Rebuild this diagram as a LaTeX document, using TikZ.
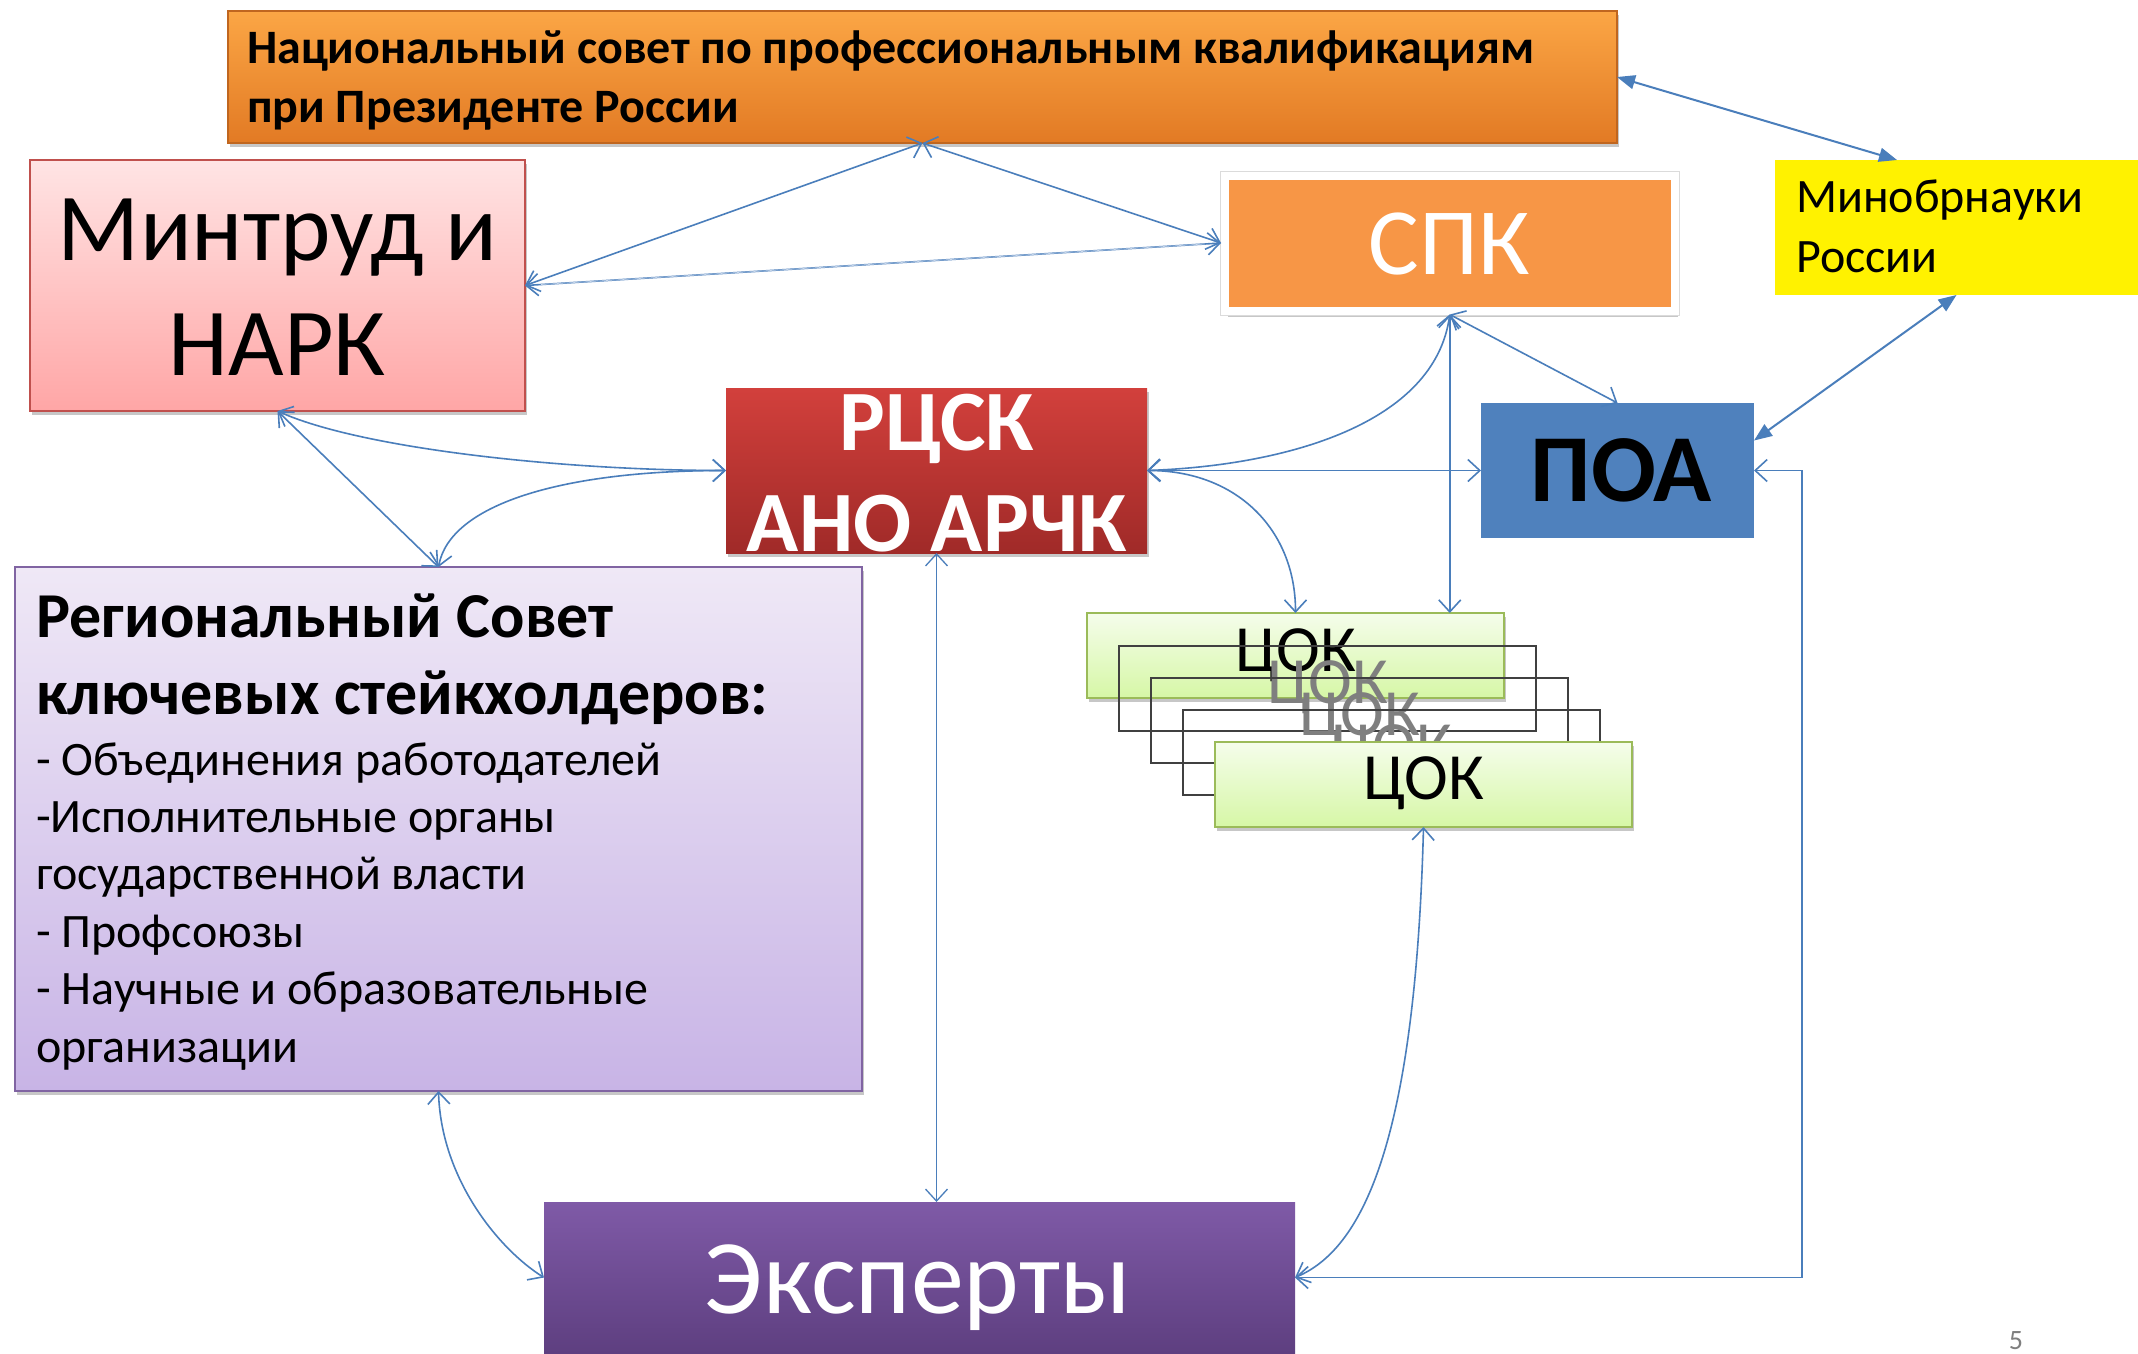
\documentclass[tikz,border=0pt]{standalone}
\usepackage{fontspec}
\setmainfont{Carlito}
\usetikzlibrary{arrows.meta,shadows,calc}
\definecolor{connc}{HTML}{4A7EBB}
\definecolor{natTop}{HTML}{FBA645}
\definecolor{natBot}{HTML}{E27A24}
\definecolor{natLine}{HTML}{C0661F}
\definecolor{minTop}{HTML}{FFE4E4}
\definecolor{minBot}{HTML}{FFA6A6}
\definecolor{minLine}{HTML}{C0504D}
\definecolor{rcTop}{HTML}{D2403C}
\definecolor{rcBot}{HTML}{A02A28}
\definecolor{spkFill}{HTML}{F79646}
\definecolor{poaFill}{HTML}{4F81BD}
\definecolor{cokTop}{HTML}{F5FDEB}
\definecolor{cokBot}{HTML}{D6F7A6}
\definecolor{cokLine}{HTML}{9BBB59}
\definecolor{regTop}{HTML}{EFE8F6}
\definecolor{regBot}{HTML}{C8B4E6}
\definecolor{regLine}{HTML}{8064A2}
\definecolor{expTop}{HTML}{7F5AA7}
\definecolor{expBot}{HTML}{5E3F80}
\definecolor{grayTxt}{HTML}{7F7F7F}
\definecolor{outl}{HTML}{404040}
\newcommand{\myfs}[2]{\fontsize{#1}{#2}\selectfont}
\begin{document}
\begin{tikzpicture}[x=1pt,y=-1pt,
  box/.style={rectangle, inner sep=0pt, outer sep=0pt},
  sh/.style={drop shadow={shadow xshift=2pt, shadow yshift=-4pt, opacity=0.22, fill=black}},
  link/.style={draw=connc, line width=1.6pt, {Straight Barb[length=12pt,width=22pt]}-{Straight Barb[length=12pt,width=22pt]}},
  flink/.style={draw=connc, line width=2pt, {Triangle[length=18pt,width=14pt]}-{Triangle[length=18pt,width=14pt]}},
  txt/.style={inner sep=0pt, outer sep=0pt, anchor=base},
  coktxt/.style={txt, font=\myfs{66}{70}},
  regl/.style={txt, anchor=base west, font=\myfs{48}{52}},
]
\fill[white] (0,0) rectangle (2138,1353);
\useasboundingbox (0,0) rectangle (2138,1353);

% ---------- boxes ----------
\node[box, sh, top color=natTop, bottom color=natBot, draw=natLine, line width=1.5pt,
      minimum width=1389pt, minimum height=132pt] (nat) at (922.5,77) {};
\node[txt, anchor=base west, font=\bfseries\myfs{48}{52}] (natT1) at (247,63) {Национальный совет по профессиональным квалификациям};
\node[txt, anchor=base west, font=\bfseries\myfs{48}{52}] (natT2) at (247,122) {при Президенте России};

\node[box, sh, top color=minTop, bottom color=minBot, draw=minLine, line width=2pt,
      minimum width=495pt, minimum height=251pt] (mintrud) at (277.5,285.5) {};
\node[txt, font=\myfs{96}{110}] (minT1) at (277.5,260) {Минтруд и};
\node[txt, font=\myfs{96}{110}] (minT2) at (277.5,375) {НАРК};

\node[box, sh, top color=rcTop, bottom color=rcBot,
      minimum width=421pt, minimum height=165pt] (rcsk) at (936.5,470.5) {};
\node[txt, text=white, font=\bfseries\myfs{86}{100}] (rcT1) at (937,450) {РЦСК};
\node[txt, text=white, font=\bfseries\myfs{86}{100}] (rcT2) at (937,551) {АНО АРЧК};

\node[box, drop shadow={shadow xshift=3pt, shadow yshift=-6pt, opacity=0.22, fill=black},
      preaction={draw=black!14, line width=10pt},
      fill=spkFill, draw=white, line width=8pt, outer sep=4pt,
      minimum width=449.5pt, minimum height=135pt] (spk) at (1449.75,243) {};
\node[txt, text=white, font=\myfs{95}{100}] (spkT) at (1449,274) {СПК};

\node[box, fill=yellow, minimum width=363pt, minimum height=135pt] (minob) at (1956.5,227.5) {};
\node[txt, anchor=base west, font=\myfs{48}{52}] (minobT1) at (1796,212) {Минобрнауки};
\node[txt, anchor=base west, font=\myfs{48}{52}] (minobT2) at (1796,272) {России};

\node[box, fill=poaFill, minimum width=273pt, minimum height=135pt] (poa) at (1617.5,470.5) {};
\node[txt, font=\bfseries\myfs{96}{100}] (poaT) at (1621,501) {ПОА};

% ЦОК stack
\node[box, sh, top color=cokTop, bottom color=cokBot, draw=cokLine, line width=2pt,
      minimum width=417pt, minimum height=85pt] (cok1) at (1295.5,655.5) {};
\node[coktxt] (cok1T) at (1295.5,671) {ЦОК};
\node[box, draw=outl, line width=1.8pt, minimum width=417pt, minimum height=85pt] (cok2) at (1327.5,688.5) {};
\node[coktxt, text=grayTxt] (cok2T) at (1327.5,703) {ЦОК};
\node[box, draw=outl, line width=1.8pt, minimum width=417pt, minimum height=85pt] (cok3) at (1359.5,720.5) {};
\node[coktxt, text=grayTxt] (cok3T) at (1359.5,735) {ЦОК};
\node[box, draw=outl, line width=1.8pt, minimum width=417pt, minimum height=85pt] (cok4) at (1391.5,752.5) {};
\node[coktxt, text=grayTxt] (cok4T) at (1391.5,767) {ЦОК};
\node[box, sh, top color=cokTop, bottom color=cokBot, draw=cokLine, line width=2pt,
      minimum width=417pt, minimum height=85pt] (cok5) at (1423.5,784.5) {};
\node[coktxt] (cok5T) at (1423.5,799) {ЦОК};

% Regional council
\node[box, sh, top color=regTop, bottom color=regBot, draw=regLine, line width=2pt,
      minimum width=847pt, minimum height=524pt] (reg) at (438.5,829) {};
\node[txt, anchor=base west, font=\bfseries\myfs{64}{68}] (reg1) at (36,637.5) {Региональный Совет};
\node[txt, anchor=base west, font=\bfseries\myfs{64}{68}] (reg2) at (36,714) {ключевых стейкхолдеров:};
\node[regl] (reg3) at (36,775) {- Объединения работодателей};
\node[regl] (reg4) at (36,832.4) {-Исполнительные органы};
\node[regl] (reg5) at (36,889.8) {государственной власти};
\node[regl] (reg6) at (36,947.2) {- Профсоюзы};
\node[regl] (reg7) at (36,1004.6) {- Научные и образовательные};
\node[regl] (reg8) at (36,1062) {организации};

% Experts
\node[box, top color=expTop, bottom color=expBot,
      minimum width=751pt, minimum height=151pt] (exp) at (919.5,1277.5) {};
\node[txt, text=white, font=\myfs{106}{110}] (expT) at (918,1313) {Эксперты};

\node[txt, text=grayTxt, font=\myfs{28}{30}] (pnum) at (2016,1349) {5};

% ---------- connectors ----------
\draw[link] (nat.south) -- (mintrud.east);
\draw[link] (nat.south) -- (spk.west);
\draw[link] (mintrud.east) -- (spk.west);
\draw[connc!30!white, line width=0.6pt, shorten <=16pt, shorten >=16pt] (mintrud.east) -- (spk.west);
\draw[flink] (nat.east) -- ([xshift=122pt]minob.north west);
\draw[flink] (minob.south) -- ([yshift=30pt]poa.east);
\draw[link] (spk.south) -- (poa.north);
\draw[link] (spk.south) .. controls +(-15,109) and +(140,-5) .. (rcsk.east);
\draw[link] (spk.south) -- (spk.south |- cok1.north);
\draw[link] (rcsk.east) -- (poa.west);
\draw[link] (rcsk.east) .. controls +(90,0) and +(0,-83) .. (cok1.north);
\draw[link] (mintrud.south) -- (reg.north);
\draw[link] (mintrud.south) .. controls +(81,37) and +(-166,0) .. (rcsk.west);
\draw[link] (reg.north) .. controls +(11.5,-62) and +(-166,0) .. (rcsk.west);
\draw[link, line width=1.3pt] (rcsk.south) -- (rcsk.south |- exp.north);
\draw[link] (reg.south) .. controls +(2.5,89) and +(-44,-27.5) .. (exp.west);
\draw[link] (cok5.south) .. controls +(-8.5,323) and +(65,-27.5) .. (exp.east);
\coordinate (elb) at ([xshift=48pt]poa.east);
\draw[link] (exp.east) -| (elb) -- (poa.east);
\end{tikzpicture}
\end{document}
